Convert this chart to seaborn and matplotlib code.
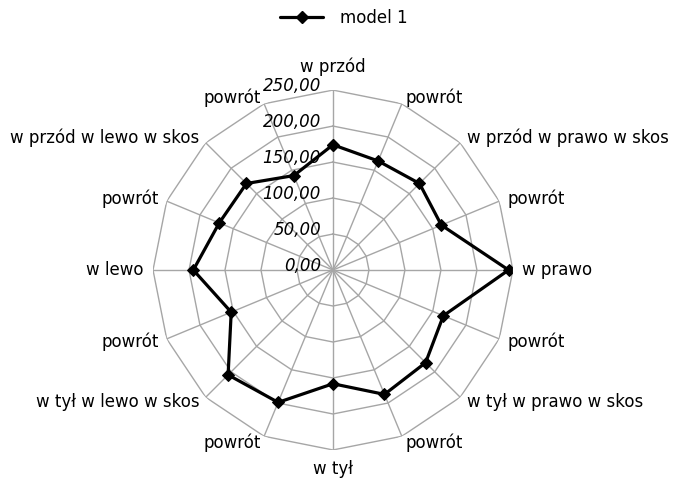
import numpy as np
import pandas as pd
import matplotlib
matplotlib.use("Agg")
import matplotlib.pyplot as plt
import seaborn as sns

categories = ["w przód", "powrót", "w przód w prawo w skos", "powrót", "w prawo",
              "powrót", "w tył w prawo w skos", "powrót", "w tył", "powrót",
              "w tył w lewo w skos", "powrót", "w lewo", "powrót",
              "w przód w lewo w skos", "powrót"]
values = [174, 164, 170, 163, 244, 166, 182, 187, 158, 199, 206, 153, 194, 171, 170, 142]
ticks = [0, 50, 100, 150, 200, 250]
tick_labels = ["0,00", "50,00", "100,00", "150,00", "200,00", "250,00"]
series_name = "model 1"

sns.set_theme(style="white")
plt.rcParams["font.family"] = ["DejaVu Sans"]

n = len(categories)
angles = np.arange(n) * 2 * np.pi / n
df = pd.DataFrame({"angle": np.append(angles, 2 * np.pi),
                   "value": values + values[:1]})

fig = plt.figure(figsize=(6.74, 4.78), dpi=100)
ax = fig.add_axes([0.227, 0.0586, 0.534, 0.753], projection="polar")
ax.set_theta_offset(np.pi / 2)
ax.set_theta_direction(-1)
ax.set_ylim(0, ticks[-1])
ax.grid(False)
ax.spines["polar"].set_visible(False)
ax.set_xticks([])
ax.set_yticks([])
ax.set_facecolor("white")

gcol = "#a6a6a6"
closed = np.append(angles, 2 * np.pi)
for t in ticks[1:]:
    ax.plot(closed, [t] * (n + 1), color=gcol, lw=1, zorder=1)
for a in angles:
    ax.plot([a, a], [0, ticks[-1]], color=gcol, lw=1, zorder=1)

sns.lineplot(data=df, x="angle", y="value", sort=False, ax=ax, color="black",
             lw=2.3, marker="D", markersize=6, markeredgecolor="black",
             zorder=3, legend=False)

R = 180.0
cx, cy = 333, 270
for t, lab in zip(ticks, tick_labels):
    ry = cy - t / ticks[-1] * R
    fig.text((cx - 12) / 674, 1 - (ry - 4) / 478, lab, ha="right", va="center",
             fontsize=12, style="italic", color="black")

# category labels
for a, c in zip(angles, categories):
    s, co = np.sin(a), np.cos(a)
    if abs(s) < 0.05:
        ha = "center"
        va = "bottom" if co > 0 else "top"
        dx, dy = 0, (14 if co > 0 else -10)
    else:
        ha = "left" if s > 0 else "right"
        va = "center"
        dx, dy = 9 * s, 7 * co
    ax.annotate(c, xy=(a, ticks[-1]), xytext=(dx, dy), textcoords="offset pixels",
                ha=ha, va=va, fontsize=12, color="black")

h = [plt.Line2D([], [], color="black", lw=2.3, marker="D", markersize=6)]
fig.legend(h, [series_name], loc="center", bbox_to_anchor=(0.51, 0.962),
           frameon=False, fontsize=12, handlelength=2.6, handletextpad=1.0,
           labelcolor="black")

fig.savefig("out.png", dpi=100, facecolor="white")
